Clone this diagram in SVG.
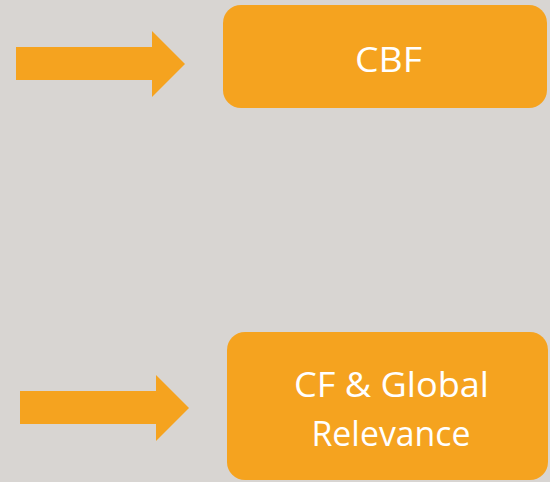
<svg xmlns="http://www.w3.org/2000/svg" width="550" height="482" viewBox="0 0 550 482">
<style>
.box{fill:#F5A31F}
.arrow{fill:#F5A31F}
.lbl{font-family:"Open Sans","Liberation Sans",sans-serif;fill:#FFFFFF;text-anchor:middle}
</style>
<rect width="550" height="482" fill="#D8D5D2"/>
<g id="connectors">
<polygon class="arrow" points="16,47 152,47 152,31 185,64 152,97 152,80 16,80"/>
<polygon class="arrow" points="20,391 156,391 156,375 189,408 156,441 156,424 20,424"/>
</g>
<g id="cbf">
<rect class="box" x="223" y="5" width="324" height="103" rx="18"/>
<text class="lbl" x="388.5" y="72" font-size="35" textLength="67" lengthAdjust="spacingAndGlyphs">CBF</text>
</g>
<g id="cf-global">
<rect class="box" x="227" y="332" width="321" height="148" rx="18"/>
<text class="lbl" x="391.5" y="397" font-size="34" textLength="195" lengthAdjust="spacingAndGlyphs">CF &amp; Global</text>
<text class="lbl" x="391" y="446" font-size="34" textLength="159" lengthAdjust="spacingAndGlyphs">Relevance</text>
</g>
</svg>
